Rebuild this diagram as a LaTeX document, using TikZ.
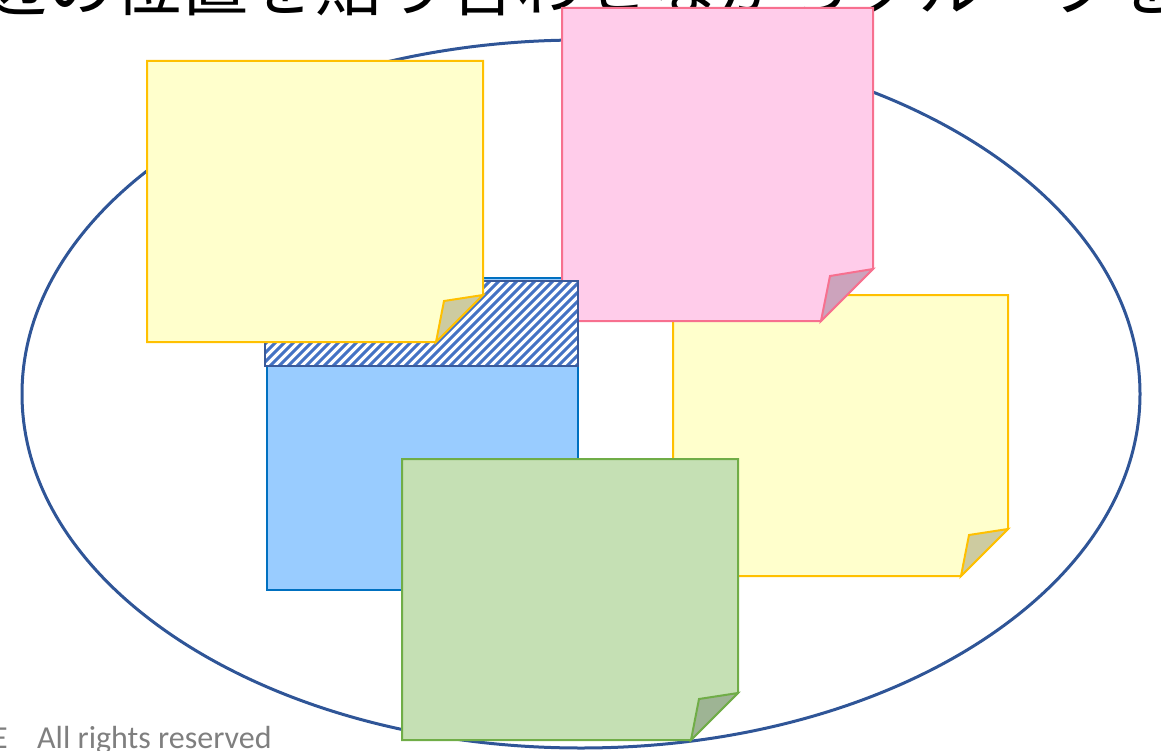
\documentclass[tikz,border=0pt]{standalone}
\usepackage{fontspec}
\newfontfamily\jpfont{Noto Sans CJK JP}
\newfontfamily\footfont{Carlito}
\definecolor{ellc}{HTML}{2F5597}
\definecolor{ylfill}{HTML}{FFFFCC}
\definecolor{yldraw}{HTML}{FFC000}
\definecolor{ylflap}{HTML}{CDCBA0}
\definecolor{pkfill}{HTML}{FFCCEA}
\definecolor{pkdraw}{HTML}{F7708F}
\definecolor{pkflap}{HTML}{CCA3BC}
\definecolor{grfill}{HTML}{C5E0B4}
\definecolor{grdraw}{HTML}{70AD47}
\definecolor{grflap}{HTML}{9EB494}
\definecolor{blfill}{HTML}{99CCFF}
\definecolor{bldraw}{HTML}{0070C0}
\definecolor{hatchc}{HTML}{4472C4}
\definecolor{hatchb}{HTML}{3A5A9A}
\definecolor{footc}{HTML}{7F7F7F}
% \mynote{x1}{y1}{x2}{y2}{fold}{inner}{fill}{draw}{flap}
\newcommand\mynote[9]{%
  \filldraw[fill=#7,draw=#8,line width=2pt,line join=miter]
    (#1,#2) -- (#3,#2) -- (#3,#4-#5) -- (#3-#5,#4) -- (#1,#4) -- cycle;
  \filldraw[fill=#9,draw=#8,line width=2pt,line join=miter]
    (#3,#4-#5) -- (#3-#6-1,#4-#6-3) -- (#3-#5,#4) -- cycle;
}
\begin{document}
\begin{tikzpicture}[x=1pt,y=-1pt]
\useasboundingbox (0,0) rectangle (1161,751);
\clip (0,0) rectangle (1161,751);
% title (cut off at the top)
\node[anchor=base west,inner sep=0pt,font=\jpfont\fontsize{67}{67}\selectfont] (title) at (-20,11) {辺の位置を貼り合わせながらグループを};
% ellipse
\draw[ellc,line width=3pt] (581,394) ellipse [x radius=559, y radius=354];
% yellow note 2 (right)
\mynote{673}{295}{1008}{576}{47}{38}{ylfill}{yldraw}{ylflap}
% blue rectangle
\filldraw[fill=blfill,draw=bldraw,line width=2pt] (267,278) rectangle (578,590);
% pink note
\mynote{562}{8}{873}{321}{52}{42}{pkfill}{pkdraw}{pkflap}
% hatched band
\fill[white] (265,281) rectangle (578,366);
\begin{scope}
  \clip (265,281) rectangle (578,366);
  \foreach \k in {0,...,48} {
    \draw[hatchc,line width=3pt] (175+9*\k,371) -- (175+9*\k+95,276);
  }
\end{scope}
\draw[hatchb,line width=2pt] (265,281) rectangle (578,366);
% yellow note 1 (left)
\mynote{147}{61}{483}{342}{47}{38}{ylfill}{yldraw}{ylflap}
% green note
\mynote{402}{459}{738}{740}{47}{38}{grfill}{grdraw}{grflap}
% footer
\node[anchor=base east,inner sep=0pt,text=footc,font=\footfont\fontsize{32}{32}\selectfont] (footE) at (8,748) {E};
\node[anchor=base west,inner sep=0pt,text=footc,font=\footfont\fontsize{32}{32}\selectfont] (foot) at (37,748) {All rights reserved};
\end{tikzpicture}
\end{document}
